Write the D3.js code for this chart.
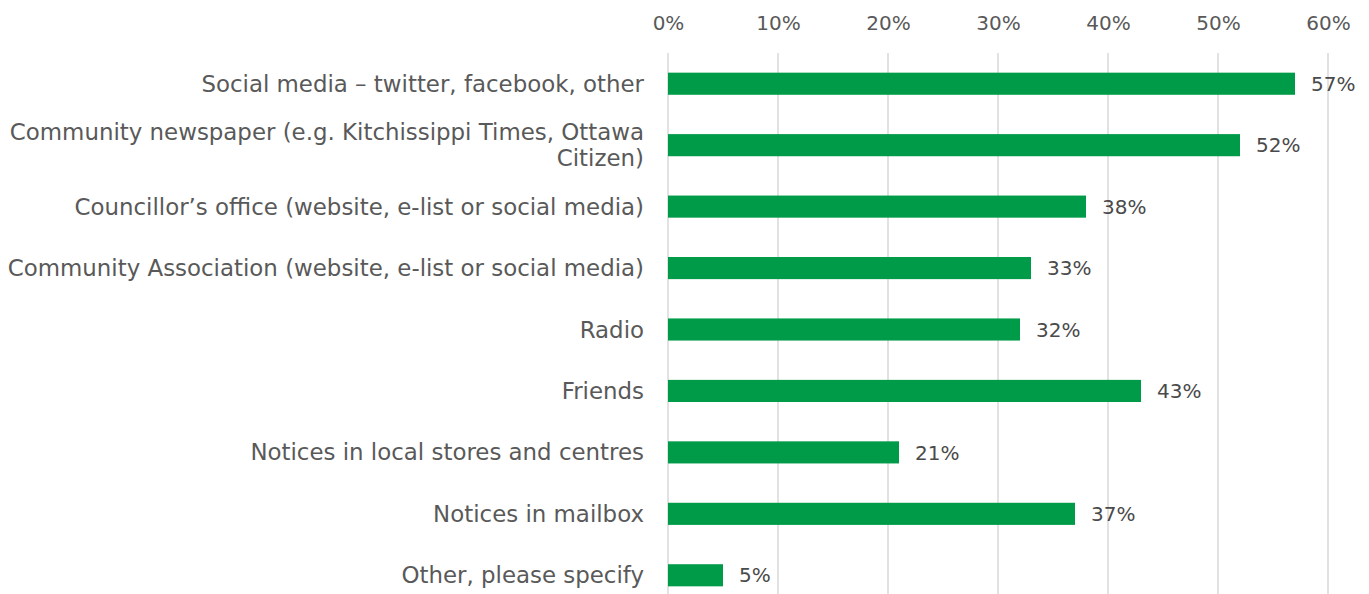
<!DOCTYPE html>
<html>
<head>
<meta charset="utf-8">
<script src="https://cdn.jsdelivr.net/npm/d3@7"></script>
<style>
  html, body { margin: 0; padding: 0; background: #fff; }
  svg text { font-family: "DejaVu Sans", sans-serif; fill: #595959; }
</style>
</head>
<body>
<svg id="chart" width="1369" height="594"></svg>
<script>
// Where respondents hear about community news (share of respondents)
const categories = [
  ["Social media \u2013 twitter, facebook, other"],
  ["Community newspaper (e.g. Kitchissippi Times, Ottawa", "Citizen)"],
  ["Councillor\u2019s office (website, e-list or social media)"],
  ["Community Association (website, e-list or social media)"],
  ["Radio"],
  ["Friends"],
  ["Notices in local stores and centres"],
  ["Notices in mailbox"],
  ["Other, please specify"]
];
const values = [0.57, 0.52, 0.38, 0.33, 0.32, 0.43, 0.21, 0.37, 0.05];
const tickValues = [0, 0.1, 0.2, 0.3, 0.4, 0.5, 0.6];

const svg = d3.select("#chart");
const W = 1369, H = 594;
const plotLeft = 668, plotRight = 1328, plotTop = 53, plotBottom = 606;

const x = d3.scaleLinear().domain([0, 0.6]).range([plotLeft, plotRight]);
const y = d3.scaleBand()
  .domain(d3.range(categories.length))
  .range([plotTop, plotBottom])
  .paddingInner(0.64)
  .paddingOuter(0.32);

// vertical gridlines
svg.append("g")
  .selectAll("line")
  .data(tickValues)
  .join("line")
  .attr("x1", d => x(d)).attr("x2", d => x(d))
  .attr("y1", plotTop).attr("y2", H)
  .attr("stroke", "#d9d9d9")
  .attr("stroke-width", 1.5);

// top axis labels
const xAxis = d3.axisTop(x).tickValues(tickValues).tickFormat(d3.format(".0%")).tickSize(0).tickPadding(0);
const gx = svg.append("g").attr("transform", `translate(0, 30)`).call(xAxis);
gx.select(".domain").remove();
gx.selectAll("text")
  .attr("font-size", 20)
  .attr("dy", 0)
  .style("font-family", '"DejaVu Sans", sans-serif')
  .style("fill", "#595959");

// bars
svg.append("g")
  .selectAll("rect")
  .data(values)
  .join("rect")
  .attr("x", x(0))
  .attr("y", (d, i) => y(i))
  .attr("width", d => x(d) - x(0))
  .attr("height", y.bandwidth())
  .attr("fill", "#009b48");

// value labels
svg.append("g")
  .selectAll("text")
  .data(values)
  .join("text")
  .attr("x", d => x(d) + 16)
  .attr("y", (d, i) => y(i) + y.bandwidth() / 2)
  .attr("dy", "0.36em")
  .attr("font-size", 20)
  .style("fill", "#4a4a4a")
  .text(d => d3.format(".0%")(d));

// category labels (right-aligned, wrapped where needed)
const lineH = 26;
const cat = svg.append("g")
  .selectAll("text")
  .data(categories)
  .join("text")
  .attr("text-anchor", "end")
  .attr("font-size", 22.9)
  .attr("y", (d, i) => y(i) + y.bandwidth() / 2);
cat.each(function(lines) {
  const t = d3.select(this);
  const off = -(lines.length - 1) * lineH / 2;
  lines.forEach((ln, k) => {
    t.append("tspan")
      .attr("x", 644)
      .attr("dy", k === 0 ? (off + 8) : lineH)
      .text(ln);
  });
});
</script>
</body>
</html>
